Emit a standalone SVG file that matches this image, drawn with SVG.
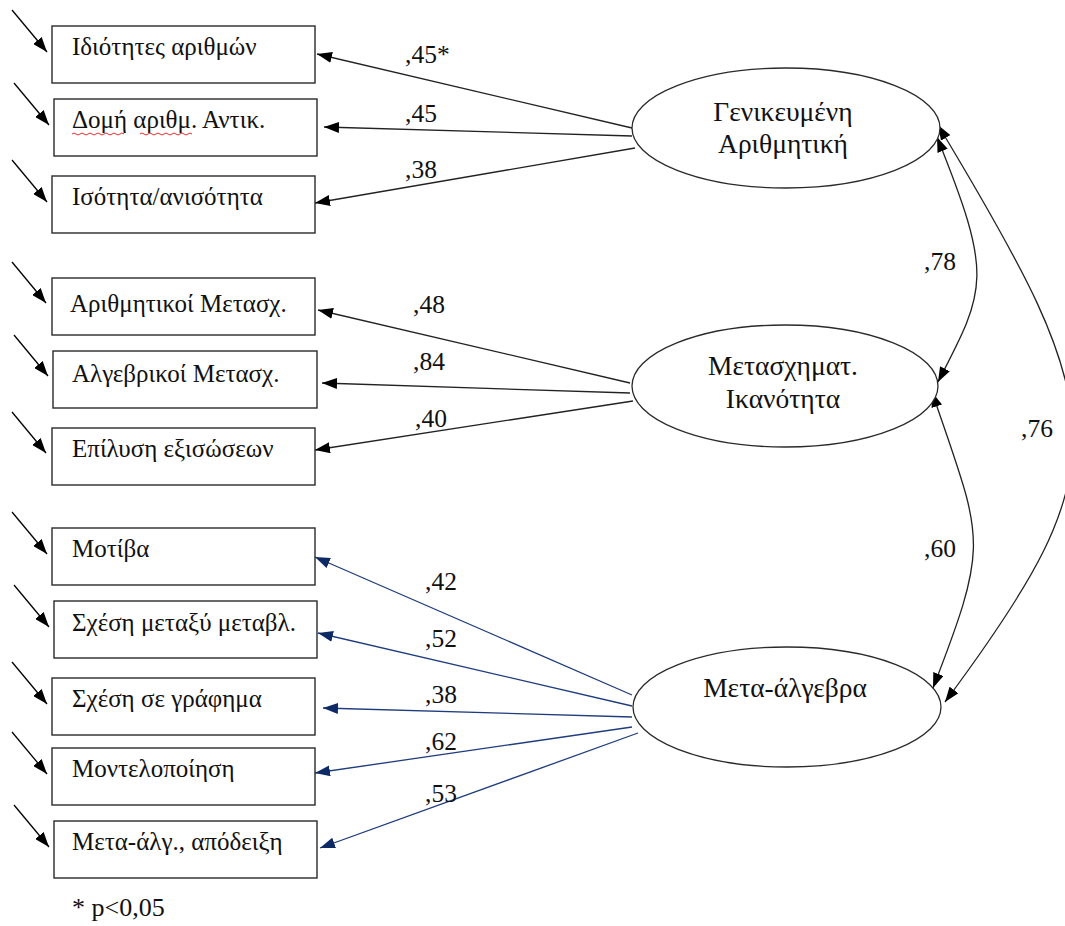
<svg xmlns="http://www.w3.org/2000/svg" width="1065" height="926" viewBox="0 0 1065 926">
<style>
.box{fill:#fff;stroke:#2a2a2a;stroke-width:1.4}
.ell{fill:#fff;stroke:#2a2a2a;stroke-width:1.3}
text{font-family:'Liberation Serif','Times New Roman',serif;fill:#111}
.t{font-size:25px}
.et{font-size:27.5px;text-anchor:middle}
.lb{font-size:25.5px}
.fn{font-size:26px}
.k{stroke:#222;stroke-width:1.3;fill:none}
.b{stroke:#1f3c7c;stroke-width:1.3;fill:none}
.err{stroke:#000;stroke-width:1.3;fill:none}
.sq{stroke:#e03030;stroke-width:1;fill:none}
</style>
<defs>
<marker id="ak" markerUnits="userSpaceOnUse" markerWidth="15" markerHeight="11" refX="15" refY="5.5" orient="auto-start-reverse"><path d="M0,0 L15,5.5 L0,11 z" fill="#000"/></marker>
<marker id="ab" markerUnits="userSpaceOnUse" markerWidth="15" markerHeight="11" refX="15" refY="5.5" orient="auto"><path d="M0,0 L15,5.5 L0,11 z" fill="#0e2a66"/></marker>
</defs>

<g id="connectors">
<g id="errors">
<line class="err" x1="12" y1="10" x2="47" y2="52" marker-end="url(#ak)"/>
<line class="err" x1="14" y1="83" x2="49" y2="125" marker-end="url(#ak)"/>
<line class="err" x1="12" y1="160" x2="47" y2="202" marker-end="url(#ak)"/>
<line class="err" x1="12" y1="262" x2="46" y2="303" marker-end="url(#ak)"/>
<line class="err" x1="14" y1="335" x2="48" y2="376" marker-end="url(#ak)"/>
<line class="err" x1="12" y1="412" x2="46" y2="453" marker-end="url(#ak)"/>
<line class="err" x1="12" y1="512" x2="47" y2="554" marker-end="url(#ak)"/>
<line class="err" x1="14" y1="585" x2="49" y2="627" marker-end="url(#ak)"/>
<line class="err" x1="12" y1="662" x2="47" y2="704" marker-end="url(#ak)"/>
<line class="err" x1="12" y1="732" x2="47" y2="774" marker-end="url(#ak)"/>
<line class="err" x1="14" y1="805" x2="49" y2="847" marker-end="url(#ak)"/>
</g>
<g id="loadings">
<line class="k" x1="632" y1="128" x2="317" y2="54" marker-end="url(#ak)"/>
<line class="k" x1="632" y1="136" x2="324" y2="127" marker-end="url(#ak)"/>
<line class="k" x1="635" y1="148" x2="315" y2="203" marker-end="url(#ak)"/>
<line class="k" x1="630" y1="383" x2="318" y2="310" marker-end="url(#ak)"/>
<line class="k" x1="630" y1="393" x2="322" y2="383" marker-end="url(#ak)"/>
<line class="k" x1="633" y1="401" x2="315" y2="450" marker-end="url(#ak)"/>
<line class="b" x1="632" y1="695" x2="315" y2="557" marker-end="url(#ab)"/>
<line class="b" x1="632" y1="706" x2="318" y2="633" marker-end="url(#ab)"/>
<line class="b" x1="632" y1="717" x2="323" y2="708" marker-end="url(#ab)"/>
<line class="b" x1="632" y1="727" x2="315" y2="773" marker-end="url(#ab)"/>
<line class="b" x1="638" y1="733" x2="320" y2="848" marker-end="url(#ab)"/>
</g>
<g id="correlations">
<path class="k" d="M937,137 C993,276 987,288 938,382" marker-start="url(#ak)" marker-end="url(#ak)"/>
<path class="k" d="M932,392 C983,542 991,538 933,688" marker-start="url(#ak)" marker-end="url(#ak)"/>
<path class="k" d="M938,125 C1112,414 1122,464 945,702" marker-start="url(#ak)" marker-end="url(#ak)"/>
</g>
<g id="labels">
<text class="lb" x="405" y="63">,45*</text>
<text class="lb" x="405" y="122">,45</text>
<text class="lb" x="405" y="178">,38</text>
<text class="lb" x="413" y="313">,48</text>
<text class="lb" x="413" y="370">,84</text>
<text class="lb" x="415" y="427">,40</text>
<text class="lb" x="425" y="590">,42</text>
<text class="lb" x="425" y="647">,52</text>
<text class="lb" x="425" y="703">,38</text>
<text class="lb" x="425" y="750">,62</text>
<text class="lb" x="425" y="802">,53</text>
<text class="lb" x="924" y="270">,78</text>
<text class="lb" x="924" y="557">,60</text>
<text class="lb" x="1021" y="437">,76</text>
</g>
</g>

<g id="n1"><rect class="box" x="52" y="26" width="263" height="57"/><text class="t" x="72" y="55">Ιδιότητες αριθμών</text></g>
<g id="n2"><rect class="box" x="54" y="99" width="263" height="57"/><text class="t" x="72" y="128">Δομή αριθμ. Αντικ.</text>
<path class="sq" d="M72,134 q2,-2 4,0 t4,0 t4,0 t4,0 t4,0 t4,0 t4,0 t4,0 t4,0 t4,0 t4,0 t4,0 t4,0 M140,134 q2,-2 4,0 t4,0 t4,0 t4,0 t4,0 t4,0 t4,0 t4,0 t4,0 t4,0 t4,0 t4,0 t4,0"/></g>
<g id="n3"><rect class="box" x="52" y="176" width="263" height="57"/><text class="t" x="72" y="205">Ισότητα/ανισότητα</text></g>
<g id="n4"><rect class="box" x="52" y="278" width="263" height="57"/><text class="t" x="70" y="312">Αριθμητικοί Μετασχ.</text></g>
<g id="n5"><rect class="box" x="53" y="351" width="264" height="57"/><text class="t" x="72" y="382">Αλγεβρικοί Μετασχ.</text></g>
<g id="n6"><rect class="box" x="52" y="428" width="263" height="57"/><text class="t" x="72" y="457">Επίλυση εξισώσεων</text></g>
<g id="n7"><rect class="box" x="52" y="528" width="263" height="57"/><text class="t" x="72" y="557">Μοτίβα</text></g>
<g id="n8"><rect class="box" x="54" y="601" width="263" height="57"/><text class="t" x="72" y="631">Σχέση μεταξύ μεταβλ.</text></g>
<g id="n9"><rect class="box" x="52" y="678" width="263" height="57"/><text class="t" x="72" y="707">Σχέση σε γράφημα</text></g>
<g id="n10"><rect class="box" x="52" y="748" width="263" height="57"/><text class="t" x="72" y="777">Μοντελοποίηση</text></g>
<g id="n11"><rect class="box" x="54" y="821" width="263" height="57"/><text class="t" x="72" y="850">Μετα-άλγ., απόδειξη</text></g>

<g id="f1"><ellipse class="ell" cx="786" cy="128" rx="154" ry="60"/><text class="et" x="783" y="121">Γενικευμένη</text><text class="et" x="783" y="153">Αριθμητική</text></g>
<g id="f2"><ellipse class="ell" cx="785" cy="386" rx="153" ry="61"/><text class="et" x="783" y="375">Μετασχηματ.</text><text class="et" x="783" y="408">Ικανότητα</text></g>
<g id="f3"><ellipse class="ell" cx="787" cy="707" rx="154" ry="60"/><text class="et" x="785" y="697">Μετα-άλγεβρα</text></g>

<text class="fn" x="72" y="916">* p&lt;0,05</text>
</svg>
